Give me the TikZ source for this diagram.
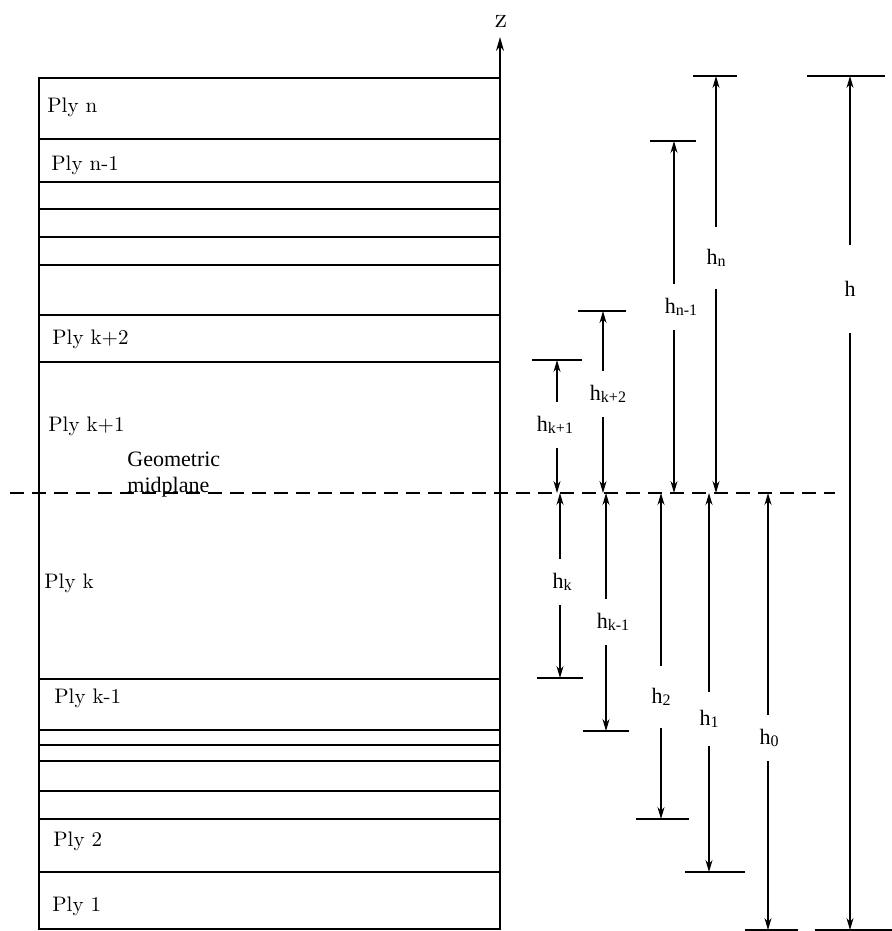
\documentclass[tikz,border=0pt]{standalone}
\usepackage{fontspec}
\newfontfamily\timesfont{Liberation Serif}
\usetikzlibrary{arrows.meta}
\newcommand{\hsub}[1]{h\raisebox{-0.25ex}{\fontsize{8}{9}\selectfont #1}}

\begin{document}
\begin{tikzpicture}[x=0.5pt,y=-0.5pt]
	\tikzset{ply/.style={anchor=west, inner sep=0pt, font=\fontsize{10.5}{12}\selectfont}}
	\tikzset{plyline/.style={line width=0.8pt}}
	\tikzset{dim/.style={-{Stealth[length=6pt,width=3.5pt]}, line width=0.6pt}}
	\tikzset{bar/.style={line width=0.8pt}}
	\tikzset{hlab/.style={font=\timesfont\fontsize{11}{12}\selectfont, inner xsep=1pt, inner ysep=7pt}}
	\useasboundingbox (0,0) rectangle (892,931);
	
	% laminate stack
	\coordinate (stackbl) at (39,929);
	\coordinate (stacktr) at (500,78);
	\draw[plyline] (stackbl) rectangle (stacktr);
	\draw[plyline] (39,139) -- (500,139)
		(39,182) -- (500,182)
		(39,209) -- (500,209)
		(39,237) -- (500,237)
		(39,265) -- (500,265)
		(39,315) -- (500,315)
		(39,362) -- (500,362)
		(39,679) -- (500,679)
		(39,730) -- (500,730)
		(39,745) -- (500,745)
		(39,761) -- (500,761)
		(39,791) -- (500,791)
		(39,819) -- (500,819)
		(39,872) -- (500,872);
	
	\node[ply] (plyn) at (47,107) {Ply n};
	\node[ply] (plyn1) at (51,165) {Ply n-1};
	\node[ply] (plyk2) at (52,339) {Ply k+2};
	\node[ply] (plyk1) at (48,426) {Ply k+1};
	\node[ply] (plyk) at (44,583) {Ply k};
	\node[ply] (plykm1) at (54,698) {Ply k-1};
	\node[ply] (ply2) at (53,841) {Ply 2};
	\node[ply] (ply1) at (52,906) {Ply 1};
	
	% z axis
	\node (zlab) at (501,21) {\fontsize{14}{14}\selectfont z};
	\coordinate (ztip) at (500,37);
	\draw[line width=0.8pt, -{Stealth[length=7pt,width=4pt]}] (stacktr) -- (ztip);
	
	% geometric midplane
	\coordinate (midl) at (10,493);
	\coordinate (midr) at (835,493);
	\draw[line width=0.7pt, dash pattern=on 7pt off 4pt] (midl) -- (midr);
	\node[anchor=west, align=left, inner sep=0pt, font=\timesfont\fontsize{11}{13}\selectfont] (midtext) at (127,475) {Geometric\\midplane};
	
	% dimensions above the midplane
	\node[hlab] (hkp1) at (555,425) {\hsub{k+1}};
	\coordinate (hkp1t) at (557,360);
	\coordinate (hkp1b) at (557,493);
	\draw[dim] (hkp1t |- hkp1.north) -- (hkp1t);
	\draw[dim] (hkp1b |- hkp1.south) -- (hkp1b);
	\draw[bar] (hkp1t) +(-25,0) -- +(25,0);
	
	\node[hlab] (hkp2) at (608,394) {\hsub{k+2}};
	\coordinate (hkp2t) at (603,311);
	\coordinate (hkp2b) at (603,493);
	\draw[dim] (hkp2t |- hkp2.north) -- (hkp2t);
	\draw[dim] (hkp2b |- hkp2.south) -- (hkp2b);
	\draw[bar] (hkp2t) +(-25,0) -- +(23,0);
	
	\node[hlab] (hnm1) at (681,307) {\hsub{n-1}};
	\coordinate (hnm1t) at (674,141);
	\coordinate (hnm1b) at (674,493);
	\draw[dim] (hnm1t |- hnm1.north) -- (hnm1t);
	\draw[dim] (hnm1b |- hnm1.south) -- (hnm1b);
	\draw[bar] (hnm1t) +(-24,0) -- +(22,0);
	
	\node[hlab, inner ysep=11pt] (hn) at (716,258) {\hsub{n}};
	\coordinate (hnt) at (716,76);
	\coordinate (hnb) at (716,493);
	\draw[dim] (hnt |- hn.north) -- (hnt);
	\draw[dim] (hnb |- hn.south) -- (hnb);
	\draw[bar] (hnt) +(-23,0) -- +(21,0);
	
	\node[hlab, inner ysep=18pt] (htot) at (850,289) {h};
	\coordinate (htott) at (850,76);
	\coordinate (htotb) at (850,930);
	\draw[dim] (htott |- htot.north) -- (htott);
	\draw[dim] (htotb |- htot.south) -- (htotb);
	\draw[bar] (htott) +(-43,0) -- +(35,0);
	\draw[bar] (htotb) +(-35,0) -- +(42,0);
	
	% dimensions below the midplane
	\node[hlab] (hk) at (562,582) {\hsub{k}};
	\coordinate (hkt) at (560,493);
	\coordinate (hkb) at (560,678);
	\draw[dim] (hkt |- hk.north) -- (hkt);
	\draw[dim] (hkb |- hk.south) -- (hkb);
	\draw[bar] (hkb) +(-23,0) -- +(23,0);
	
	\node[hlab] (hkm1) at (613,622) {\hsub{k-1}};
	\coordinate (hkm1t) at (606,493);
	\coordinate (hkm1b) at (606,731);
	\draw[dim] (hkm1t |- hkm1.north) -- (hkm1t);
	\draw[dim] (hkm1b |- hkm1.south) -- (hkm1b);
	\draw[bar] (hkm1b) +(-23,0) -- +(23,0);
	
	\node[hlab, inner ysep=11pt] (htwo) at (661,697) {\hsub{2}};
	\coordinate (htwot) at (661,493);
	\coordinate (htwob) at (661,819);
	\draw[dim] (htwot |- htwo.north) -- (htwot);
	\draw[dim] (htwob |- htwo.south) -- (htwob);
	\draw[bar] (htwob) +(-25,0) -- +(28,0);
	
	\node[hlab, inner ysep=9pt] (hone) at (709,719) {\hsub{1}};
	\coordinate (honet) at (709,493);
	\coordinate (honeb) at (709,872);
	\draw[dim] (honet |- hone.north) -- (honet);
	\draw[dim] (honeb |- hone.south) -- (honeb);
	\draw[bar] (honeb) +(-24,0) -- +(36,0);
	
	\node[hlab] (hzero) at (769,738) {\hsub{0}};
	\coordinate (hzerot) at (768,493);
	\coordinate (hzerob) at (768,930);
	\draw[dim] (hzerot |- hzero.north) -- (hzerot);
	\draw[dim] (hzerob |- hzero.south) -- (hzerob);
	\draw[bar] (hzerob) +(-23,0) -- +(30,0);
\end{tikzpicture}
\end{document}
